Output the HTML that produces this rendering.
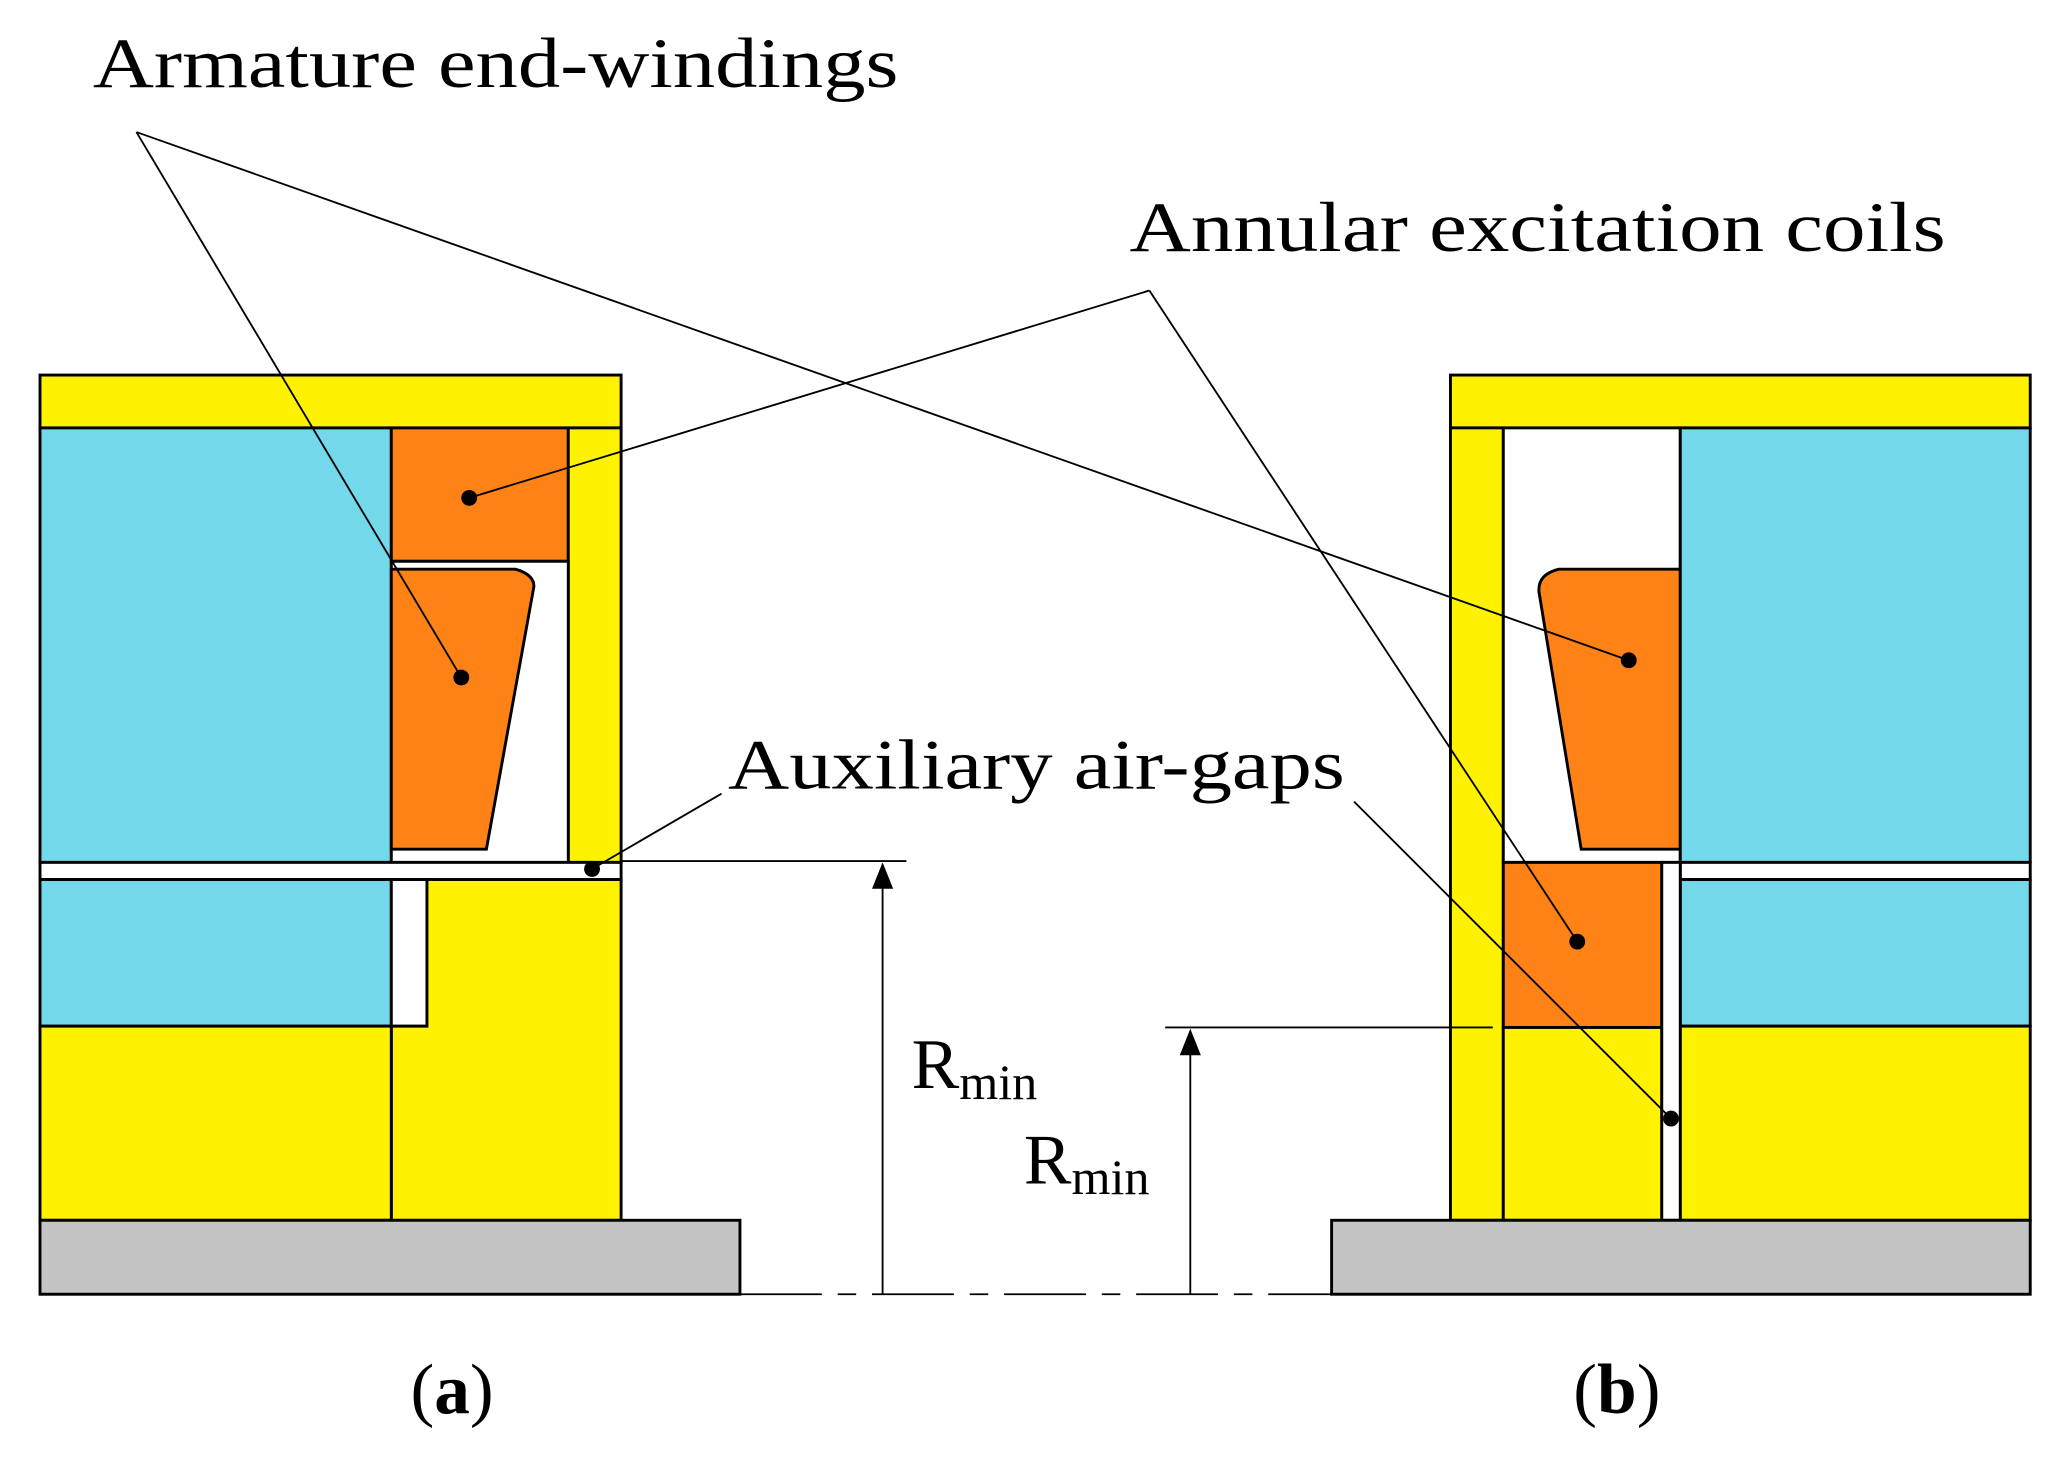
<!DOCTYPE html>
<html><head><meta charset="utf-8"><style>html,body{margin:0;padding:0;background:#fff}svg{display:block}</style></head>
<body>
<svg width="2061" height="1458" viewBox="0 0 1560 1104" xmlns="http://www.w3.org/2000/svg" font-family="'Liberation Serif', serif">
<g stroke="#000" stroke-width="2.2">
<!-- LEFT (a) -->
<rect x="30" y="284" width="440" height="40" fill="#fff200"/>
<rect x="30" y="324" width="266" height="329" fill="#73d8ea"/>
<rect x="296" y="324" width="134" height="101" fill="#ff8216"/>
<rect x="430" y="324" width="40" height="329" fill="#fff200"/>
<rect x="296" y="425" width="134" height="228" fill="#fff"/>
<path d="M296 431 L390 431 Q404 435 404 444 L368 643 L296 643 Z" fill="#ff8216"/>
<rect x="30" y="653" width="440" height="13" fill="#fff"/>
<rect x="30" y="666" width="266" height="111" fill="#73d8ea"/>
<rect x="296" y="666" width="27" height="111" fill="#fff"/>
<path d="M323 666 L470 666 L470 924 L296 924 L296 777 L323 777 Z" fill="#fff200"/>
<rect x="30" y="777" width="266" height="147" fill="#fff200"/>
<rect x="30" y="924" width="530" height="56" fill="#c4c4c4"/>
<!-- RIGHT (b) -->
<rect x="1098" y="284" width="439" height="40" fill="#fff200"/>
<rect x="1098" y="324" width="40" height="600" fill="#fff200"/>
<rect x="1138" y="324" width="134" height="329" fill="#fff"/>
<path d="M1272 431 L1180 431 Q1164 435 1165 448 L1197 643 L1272 643 Z" fill="#ff8216"/>
<rect x="1272" y="324" width="265" height="329" fill="#73d8ea"/>
<rect x="1272" y="653" width="265" height="13" fill="#fff"/>
<rect x="1272" y="666" width="265" height="111" fill="#73d8ea"/>
<rect x="1272" y="777" width="265" height="147" fill="#fff200"/>
<rect x="1138" y="653" width="120" height="125" fill="#ff8216"/>
<rect x="1138" y="778" width="120" height="146" fill="#fff200"/>
<rect x="1258" y="653" width="14" height="271" fill="#fff"/>
<rect x="1008" y="924" width="529" height="56" fill="#c4c4c4"/>
</g>
<g stroke="#000" stroke-width="1.4" fill="none">
<line x1="103" y1="100" x2="349" y2="513"/>
<line x1="103" y1="100" x2="1233" y2="500"/>
<line x1="870" y1="220" x2="355" y2="377"/>
<line x1="870" y1="220" x2="1194" y2="713"/>
<line x1="546" y1="601" x2="448" y2="658"/>
<line x1="1025" y1="607" x2="1265" y2="847"/>
<line x1="470" y1="652" x2="686" y2="652"/>
<line x1="668" y1="980" x2="668" y2="670"/>
<line x1="882" y1="778" x2="1130" y2="778"/>
<line x1="901" y1="980" x2="901" y2="796"/>
<line x1="560" y1="980" x2="1008" y2="980" stroke-dasharray="62,12,14,12"/>
</g>
<g fill="#000">
<circle cx="355" cy="377" r="6"/><circle cx="349" cy="513" r="6"/><circle cx="448" cy="658" r="6"/>
<circle cx="1233" cy="500" r="6"/><circle cx="1194" cy="713" r="6"/><circle cx="1265" cy="847" r="6"/>
<path d="M668 653 L660 673 L676 673 Z"/>
<path d="M901 779 L893 799 L909 799 Z"/>
</g>
<g fill="#000" font-size="54">
<text x="70" y="66" textLength="610" lengthAdjust="spacingAndGlyphs">Armature end-windings</text>
<text x="855" y="190" textLength="618" lengthAdjust="spacingAndGlyphs">Annular excitation coils</text>
<text x="551" y="597" textLength="467" lengthAdjust="spacingAndGlyphs">Auxiliary air-gaps</text>
<text x="690" y="824">R<tspan font-size="38" dy="8">min</tspan></text>
<text x="775" y="896">R<tspan font-size="38" dy="8">min</tspan></text>
<text x="342" y="1070" text-anchor="middle">(<tspan font-weight="bold">a</tspan>)</text>
<text x="1224" y="1070" text-anchor="middle">(<tspan font-weight="bold">b</tspan>)</text>
</g>
</svg>
</body></html>
